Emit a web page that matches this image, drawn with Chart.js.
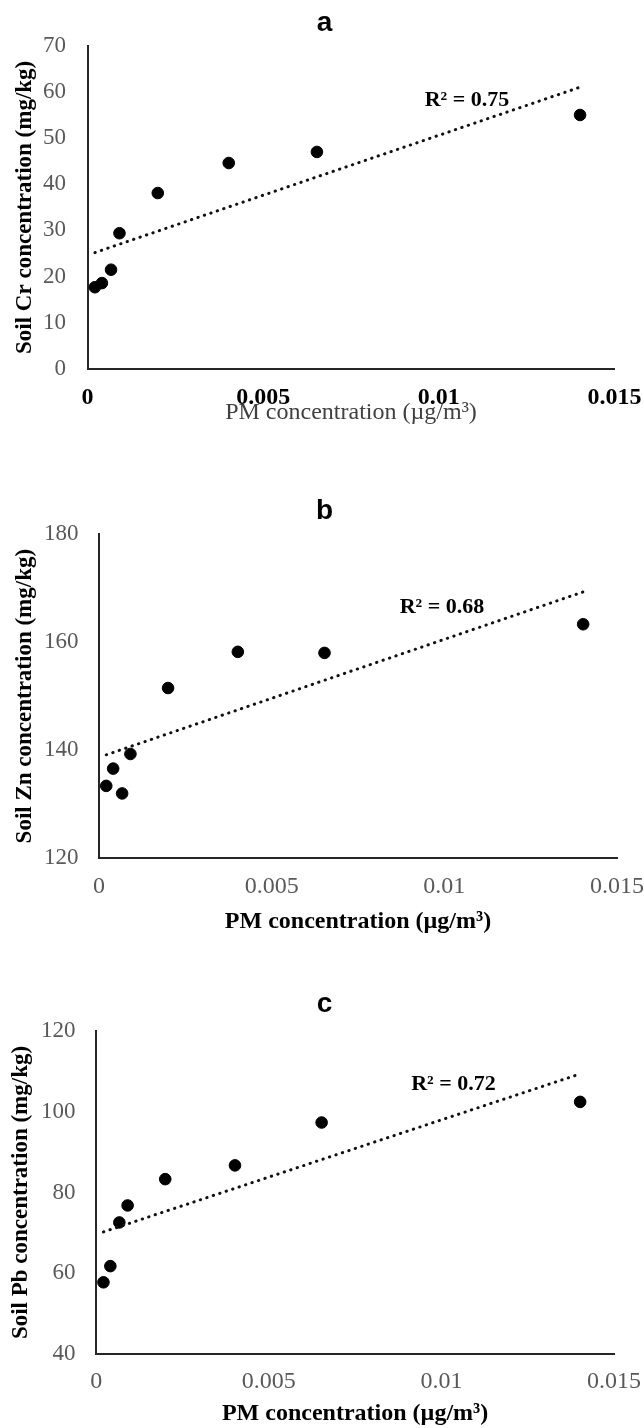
<!DOCTYPE html>
<html>
<head>
<meta charset="utf-8">
<script src="https://cdn.jsdelivr.net/npm/chart.js@4.4.0/dist/chart.umd.min.js"></script>
<style>
html, body { margin: 0; padding: 0; background: #fff; }
body { width: 644px; height: 1428px; position: relative; overflow: hidden; }
canvas { position: absolute; left: 0; }
</style>
</head>
<body>
<canvas id="chartA" width="644" height="450" style="top:0px;width:644px;height:450px"></canvas>
<canvas id="chartB" width="644" height="450" style="top:488px;width:644px;height:450px"></canvas>
<canvas id="chartC" width="644" height="445" style="top:983px;width:644px;height:445px"></canvas>
<script>
// PM concentration (same sites for all three panels)
const pmConc = [0.00021, 0.00041, 0.00067, 0.00091, 0.0020, 0.00402, 0.00653, 0.01402];

// soil metal concentrations (mg/kg)
const soilCr = [17.7, 18.6, 21.5, 29.4, 38.1, 44.6, 47.0, 55.0];
const soilZn = [133.4, 136.6, 132.0, 139.3, 151.5, 158.2, 158.0, 163.3];
const soilPb = [57.8, 61.8, 72.6, 76.8, 83.3, 86.7, 97.3, 102.4];

const panelLetters = ["a", "b", "c"];
const rSquared = ["0.75", "0.68", "0.72"];
const yTitles = [
  "Soil Cr concentration (mg/kg)",
  "Soil Zn concentration (mg/kg)",
  "Soil Pb concentration (mg/kg)"
];
const xTitle = "PM concentration (\u00b5g/m\u00b3)";

// axis ranges [min, max, step]
const xRange = [0, 0.015, 0.005];
const crRange = [0, 70, 10];
const znRange = [120, 180, 20];
const pbRange = [40, 120, 20];


// least squares trend line, from first to last x (like Excel)
function trendLine(xs, ys){
  let n = xs.length;
  let mx = xs.reduce((a, b) => a + b, 0) / n;
  let my = ys.reduce((a, b) => a + b, 0) / n;
  let sxy = 0, sxx = 0;
  for (let i = 0; i < n; i++){
    sxy += (xs[i] - mx) * (ys[i] - my);
    sxx += (xs[i] - mx) * (xs[i] - mx);
  }
  let slope = sxy / sxx;
  let icpt = my - slope * mx;
  let x0 = Math.min(...xs), x1 = Math.max(...xs);
  return [{x: x0, y: icpt + slope * x0}, {x: x1, y: icpt + slope * x1}];
}


// panel letter + R² text
const panelText = {
  id: "panelText",
  afterDraw(chart, args, opts){
    let ctx = chart.ctx;
    ctx.save();
    ctx.fillStyle = "#000";
    ctx.textAlign = "center";
    ctx.textBaseline = "alphabetic";
    ctx.font = "bold 28px 'Liberation Sans'";
    ctx.fillText(opts.letter, 324.5, opts.letterY);

    let x = chart.scales.x.getPixelForValue(opts.r2At[0]);
    let y = chart.scales.y.getPixelForValue(opts.r2At[1]);
    ctx.font = "bold 22px 'Liberation Serif'";
    ctx.textBaseline = "middle";
    ctx.fillText("R\u00b2 = " + opts.r2, x, y);
    ctx.restore();
  }
};


function drawPanel(id, ys, range, idx, geo){

  let points = pmConc.map((x, i) => ({x: x, y: ys[i]}));
  let canvas = document.getElementById(id);

  new Chart(canvas, {
    type: "scatter",
    data: {
      datasets: [
        {
          type: "line",
          data: trendLine(pmConc, ys),
          borderColor: "#111",
          borderWidth: 3,
          borderDash: [0.4, 6.4],
          borderCapStyle: "round",
          pointRadius: 0,
          fill: false
        },
        {
          data: points,
          backgroundColor: "#000",
          borderColor: "#000",
          pointRadius: 5.8,
          pointHoverRadius: 5.8
        }
      ]
    },
    plugins: [panelText],
    options: {
      responsive: false,
      animation: false,
      devicePixelRatio: 1,
      layout: {
        padding: {top: geo.top, right: 644 - geo.right, left: 0, bottom: geo.h - geo.xBottom}
      },
      plugins: {
        legend: {display: false},
        tooltip: {enabled: false},
        panelText: {letter: panelLetters[idx], letterY: geo.letterY, r2: rSquared[idx], r2At: geo.r2At}
      },
      scales: {
        x: {
          type: "linear",
          min: xRange[0],
          max: xRange[1],
          afterFit: s => {
            s.height = geo.xBottom - geo.bottom;
            s.paddingLeft = 0;
            s.paddingRight = 0;
          },
          grid: {display: false, drawTicks: false},
          border: {display: true, color: "#262626", width: 2},
          ticks: {
            stepSize: xRange[2],
            padding: geo.xTickPad,
            color: geo.xTickBold ? "#000" : "#595959",
            font: {family: "'Liberation Serif'", size: 24, weight: geo.xTickBold ? "bold" : "normal"},
            callback: v => String(Number(v.toFixed(3)))
          },
          title: {
            display: true,
            text: xTitle,
            padding: {top: 0, bottom: 0},
            color: geo.xTitleBold ? "#000" : "#404040",
            font: {family: "'Liberation Serif'", size: 24, weight: geo.xTitleBold ? "bold" : "normal"}
          }
        },
        y: {
          min: range[0],
          max: range[1],
          afterFit: s => {
            s.width = geo.left;
            s.paddingTop = 0;
            s.paddingBottom = 0;
          },
          grid: {display: false, drawTicks: false},
          border: {display: true, color: "#262626", width: 2},
          ticks: {
            stepSize: range[2],
            padding: geo.yTickPad,
            color: "#595959",
            font: {family: "'Liberation Serif'", size: 23}
          },
          title: {
            display: true,
            text: yTitles[idx],
            padding: {top: geo.yTitlePad, bottom: 0},
            color: "#000",
            font: {family: "'Liberation Serif'", size: 23, weight: "bold"}
          }
        }
      }
    }
  });
}


drawPanel("chartA", soilCr, crRange, 0, {
  h: 450, top: 45.7, bottom: 369, left: 87.5, right: 614.5, xBottom: 427.4,
  xTickPad: 14.2, yTickPad: 21.5, yTitlePad: 11, letterY: 31,
  xTickBold: true, xTitleBold: false, r2At: [0.0108, 58.2]
});

drawPanel("chartB", soilZn, znRange, 1, {
  h: 450, top: 46, bottom: 370.3, left: 99, right: 617, xBottom: 448.4,
  xTickPad: 13.9, yTickPad: 20.5, yTitlePad: 11, letterY: 31,
  xTickBold: false, xTitleBold: true, r2At: [0.00993, 166.5]
});

drawPanel("chartC", soilPb, pbRange, 2, {
  h: 445, top: 47.7, bottom: 371.3, left: 96.2, right: 614, xBottom: 444.9,
  xTickPad: 12.9, yTickPad: 20.7, yTitlePad: 6.8, letterY: 29,
  xTickBold: false, xTitleBold: true, r2At: [0.01035, 106.7]
});
</script>
</body>
</html>
